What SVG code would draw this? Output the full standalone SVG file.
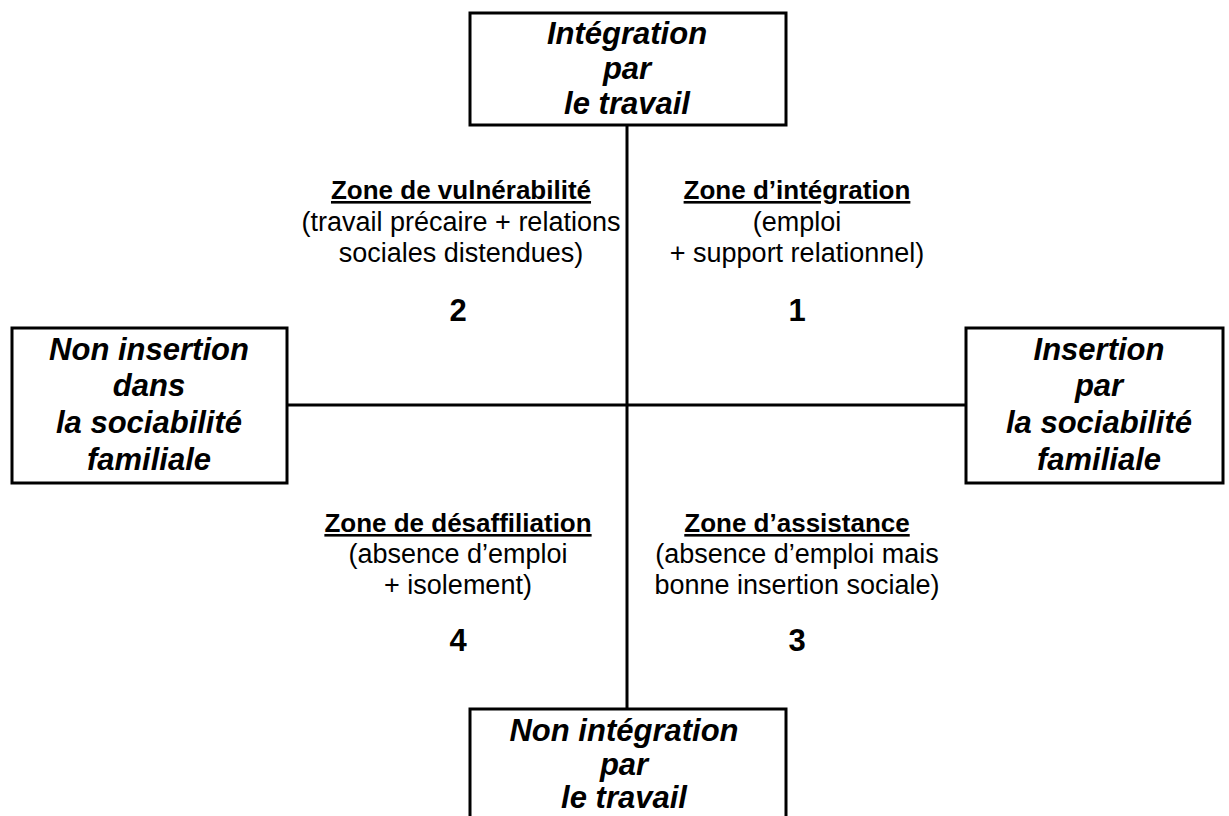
<svg xmlns="http://www.w3.org/2000/svg" width="1229" height="816" viewBox="0 0 1229 816">
<style>
.box{fill:#fff;stroke:#000;stroke-width:3}
.line{stroke:#000;stroke-width:3;fill:none}
.bt{font-family:"Liberation Sans",Arial,sans-serif;font-size:31px;font-weight:bold;font-style:italic;text-anchor:middle;fill:#000}
.zt{font-family:"Liberation Sans",Arial,sans-serif;font-size:26px;font-weight:bold;text-decoration:underline;text-anchor:middle;fill:#000}
.zd{font-family:"Liberation Sans",Arial,sans-serif;font-size:27px;text-anchor:middle;fill:#000}
.num{font-family:"Liberation Sans",Arial,sans-serif;font-size:31px;font-weight:bold;text-anchor:middle;fill:#000}
</style>
<rect width="1229" height="816" fill="#fff"/>
<g id="connectors">
<line class="line" x1="627" y1="125" x2="627" y2="709"/>
<line class="line" x1="287" y1="405" x2="966" y2="405"/>
</g>
<g id="top">
<rect class="box" x="470" y="13" width="316" height="112"/>
<text class="bt" x="627" y="44">Intégration</text>
<text class="bt" x="627" y="79">par</text>
<text class="bt" x="627" y="114">le travail</text>
</g>
<g id="left">
<rect class="box" x="12" y="328" width="275" height="155"/>
<text class="bt" x="149" y="360">Non insertion</text>
<text class="bt" x="149" y="396">dans</text>
<text class="bt" x="149" y="433">la sociabilité</text>
<text class="bt" x="149" y="470">familiale</text>
</g>
<g id="right">
<rect class="box" x="966" y="328" width="257" height="155"/>
<text class="bt" x="1099" y="360">Insertion</text>
<text class="bt" x="1099" y="396">par</text>
<text class="bt" x="1099" y="433">la sociabilité</text>
<text class="bt" x="1099" y="470">familiale</text>
</g>
<g id="bottom">
<rect class="box" x="470" y="709" width="316" height="130"/>
<text class="bt" x="624" y="741">Non intégration</text>
<text class="bt" x="624" y="775">par</text>
<text class="bt" x="624" y="808">le travail</text>
</g>
<g id="zone2">
<text class="zt" x="461" y="199">Zone de vulnérabilité</text>
<text class="zd" x="461" y="231">(travail précaire + relations</text>
<text class="zd" x="461" y="262">sociales distendues)</text>
<text class="num" x="458" y="321">2</text>
</g>
<g id="zone1">
<text class="zt" x="797" y="199">Zone d’intégration</text>
<text class="zd" x="797" y="231">(emploi</text>
<text class="zd" x="797" y="262">+ support relationnel)</text>
<text class="num" x="797" y="321">1</text>
</g>
<g id="zone4">
<text class="zt" x="458" y="532">Zone de désaffiliation</text>
<text class="zd" x="458" y="563">(absence d’emploi</text>
<text class="zd" x="458" y="594">+ isolement)</text>
<text class="num" x="458" y="651">4</text>
</g>
<g id="zone3">
<text class="zt" x="797" y="532">Zone d’assistance</text>
<text class="zd" x="797" y="563">(absence d’emploi mais</text>
<text class="zd" x="797" y="594">bonne insertion sociale)</text>
<text class="num" x="797" y="651">3</text>
</g>
</svg>
